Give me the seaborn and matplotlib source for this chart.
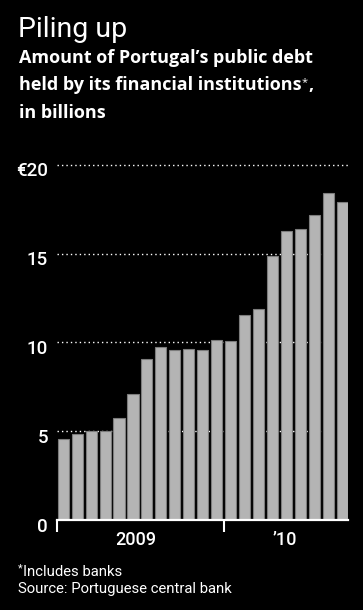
import matplotlib
matplotlib.use("Agg")
import matplotlib.pyplot as plt
import matplotlib.transforms as mtransforms
import seaborn as sns
import pandas as pd

# ---- data ----
months = ["Jan 09", "Feb 09", "Mar 09", "Apr 09", "May 09", "Jun 09",
          "Jul 09", "Aug 09", "Sep 09", "Oct 09", "Nov 09", "Dec 09",
          "Jan 10", "Feb 10", "Mar 10", "Apr 10", "May 10", "Jun 10",
          "Jul 10", "Aug 10", "Sep 10"]
debt = [4.56, 4.83, 5.0, 5.0, 5.73, 7.08, 9.07, 9.75, 9.56, 9.63, 9.6, 10.14,
        10.07, 11.53, 11.87, 14.87, 16.26, 16.39, 17.18, 18.4, 17.9]
y_ticks = [0, 5, 10, 15, 20]
y_tick_labels = ["0", "5", "10", "15", "€20"]
year_labels = ["2009", "’10"]

title = "Piling up"
subtitle_lines = ["Amount of Portugal’s public debt",
                  "held by its financial institutions",
                  "in billions"]
footnote = "Includes banks"
source = "Source: Portuguese central bank"

# ---- style ----
sns.set_theme(style="dark", rc={"figure.facecolor": "black",
                                "axes.facecolor": "black",
                                "savefig.facecolor": "black"})
plt.rcParams["font.family"] = ["Roboto", "DejaVu Sans"]
SUB_FONT = ["Open Sans", "DejaVu Sans"]

W, H = 363, 610
fig = plt.figure(figsize=(W / 100, H / 100), dpi=100)
fig.patch.set_facecolor("black")

ax_left, ax_right = 57.4, 348.4
ax_bottom, ax_top = 520.0, 156.1
ax = fig.add_axes([ax_left / W, 1 - ax_bottom / H,
                   (ax_right - ax_left) / W, (ax_bottom - ax_top) / H])
ax.set_facecolor("black")

df = pd.DataFrame({"month": months, "debt": debt})
sns.barplot(data=df, x="month", y="debt", ax=ax, color="#b4b4b4",
            saturation=1, width=0.8, edgecolor="#7c7c7c", linewidth=0.8)

ax.set_xlim(-0.42, 20.45)
ax.set_ylim(0, 20.5)
ax.set_xlabel("")
ax.set_ylabel("")

# grid
ax.yaxis.grid(True, color="white", linestyle=(0, (1, 2.2)), linewidth=1.0)
ax.xaxis.grid(False)
ax.set_axisbelow(True)

for s in ["top", "right", "left"]:
    ax.spines[s].set_visible(False)
ax.spines["bottom"].set_color("white")
ax.spines["bottom"].set_linewidth(1.6)
ax.spines["bottom"].set_zorder(5)

# x ticks: year separators
ax.set_xticks([-0.42, 11.5])
ax.set_xticklabels(["", ""])
ax.tick_params(axis="x", length=8.6, width=1.5, color="white", direction="out", bottom=True)

# y ticks
ax.set_yticks(y_ticks)
ax.set_yticklabels(y_tick_labels)
ax.tick_params(axis="y", length=0, pad=6.8, labelcolor="white", labelsize=13.5, left=False)
off = mtransforms.ScaledTranslation(0, -4.5 / 100, fig.dpi_scale_trans)
for lab in ax.get_yticklabels():
    lab.set_transform(lab.get_transform() + off)
    lab.set_fontweight("medium")

# year labels
for xpos, lab in zip([5.2, 15.85], year_labels):
    ax.annotate(lab, xy=(xpos, 0), xycoords=("data", "axes fraction"),
                xytext=(0, -25 * 0.72), textcoords="offset points",
                ha="center", va="baseline", color="white", fontsize=13,
                fontweight="medium")

# titles
def fy(px):
    return 1 - px / H

fig.text(18 / W, fy(36.7), title, color="white", fontsize=20.5, va="baseline",
         ha="left")
sub_base = [63.3, 90.5, 118.3]
renderer = fig.canvas.get_renderer()
for i, (line, b) in enumerate(zip(subtitle_lines, sub_base)):
    t = fig.text(19 / W, fy(b), line, color="white", fontsize=13, fontweight="bold",
                 va="baseline", ha="left", family=SUB_FONT)
    if i == 1:
        bb = t.get_window_extent(renderer)
        st = fig.text(bb.x1 / W + 0.5 / W, fy(b - 5), "*", color="white", fontsize=8,
                      va="baseline", ha="left", family=SUB_FONT)
        bb2 = st.get_window_extent(renderer)
        fig.text(bb2.x1 / W, fy(b), ",", color="white", fontsize=13, fontweight="bold",
                 va="baseline", ha="left", family=SUB_FONT)

# footnotes
st = fig.text(18 / W, fy(571), "*", color="white", fontsize=8, va="baseline", ha="left")
bb = st.get_window_extent(renderer)
fig.text(bb.x1 / W + 0.5 / W, fy(575.5), footnote, color="white", fontsize=10.7,
         va="baseline", ha="left")
fig.text(18 / W, fy(593), source, color="white", fontsize=10.7, va="baseline", ha="left")

fig.savefig("out.png", dpi=100, facecolor="black")
